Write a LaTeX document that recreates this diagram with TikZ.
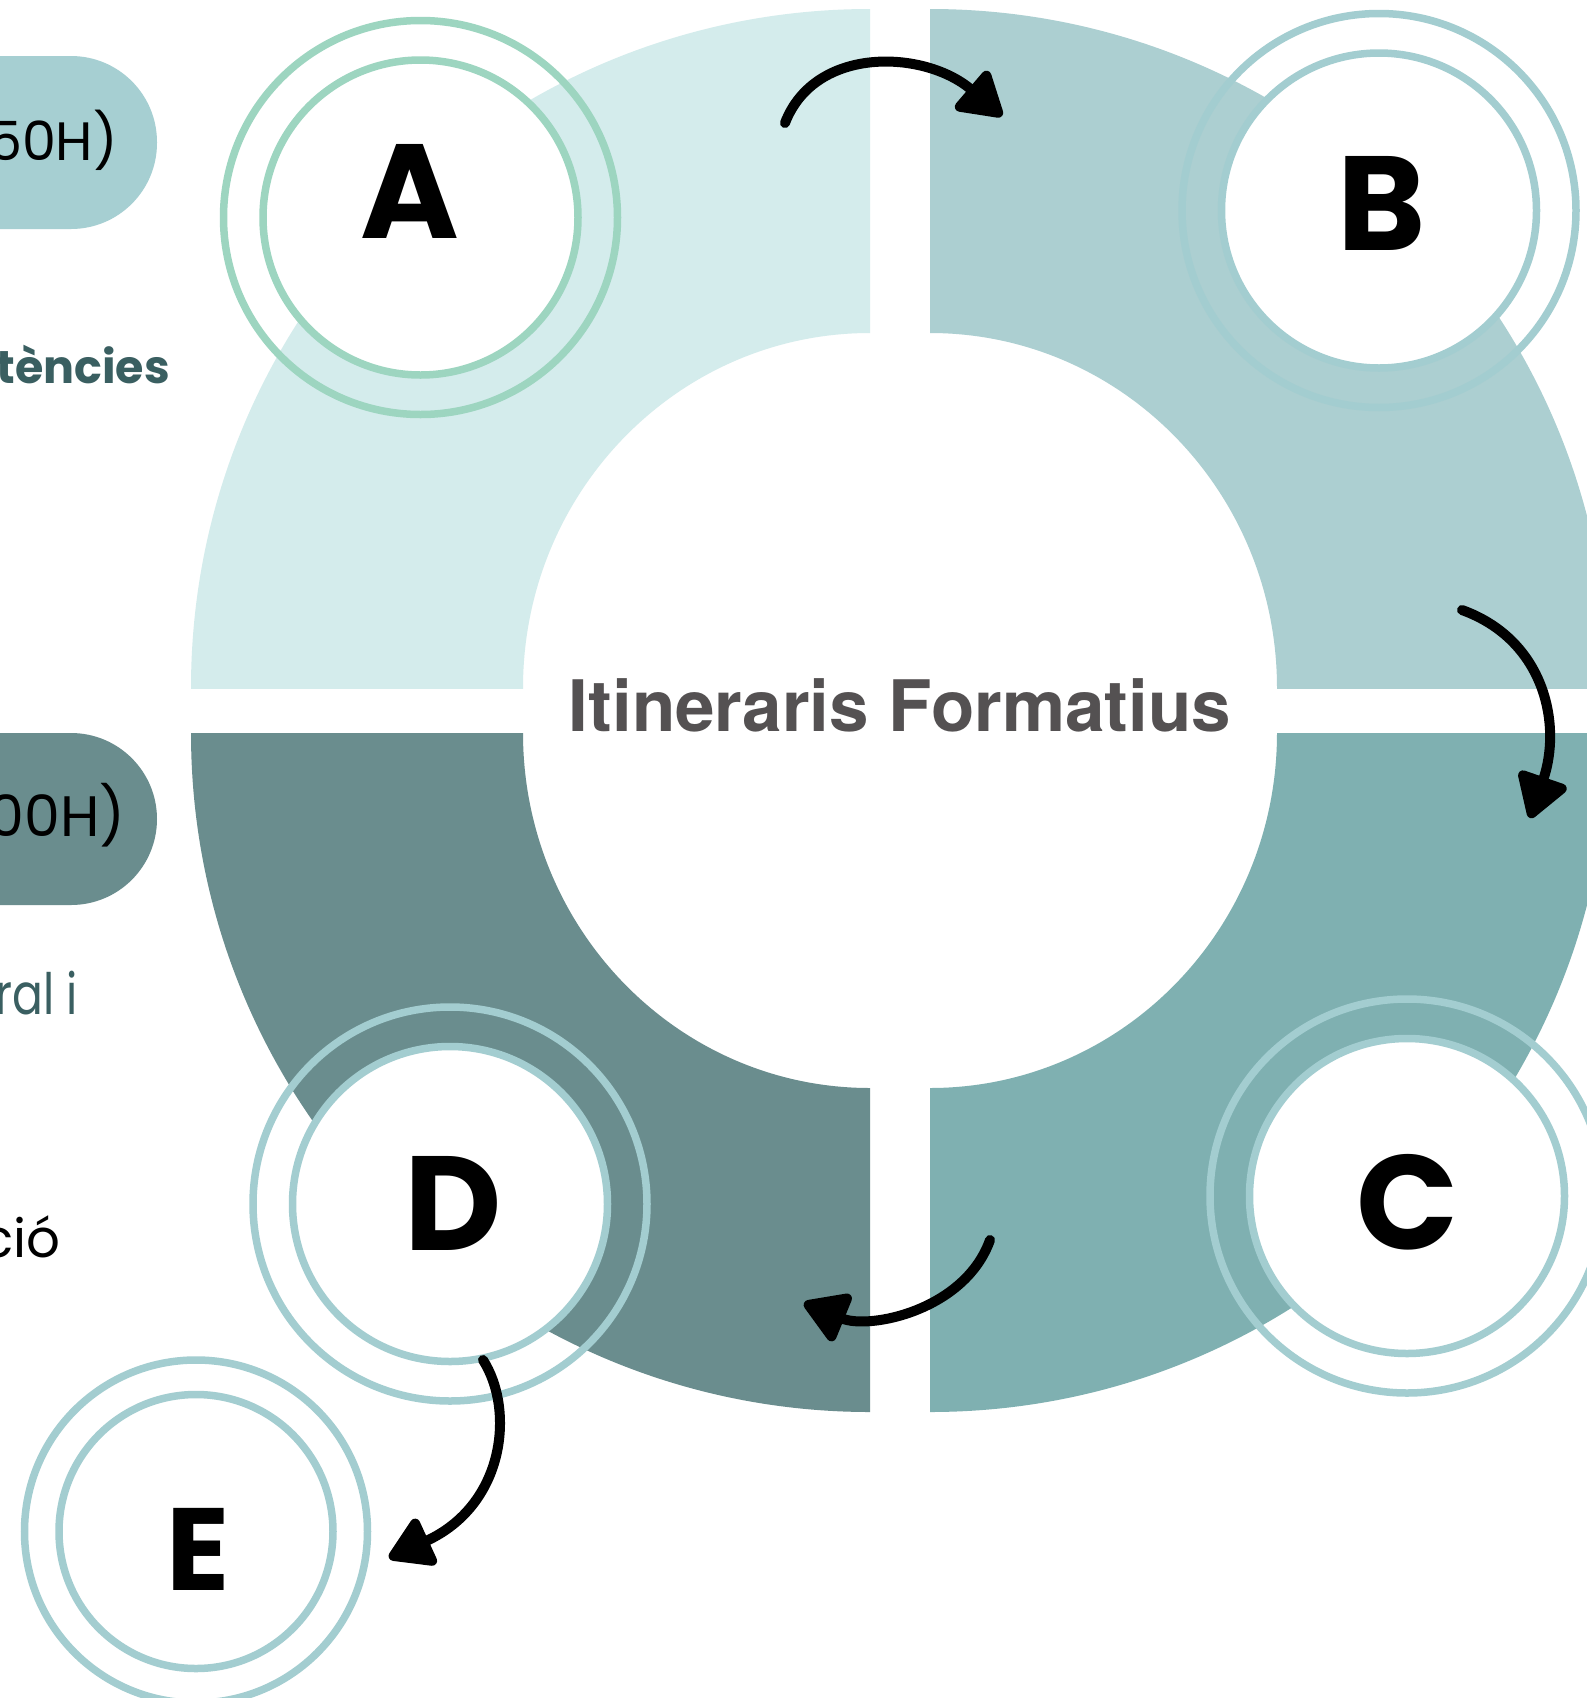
\documentclass[tikz,border=0pt]{standalone}
\usepackage{fontspec}
\setmainfont{Poppins}
\newfontfamily\titlefont{TeX Gyre Heros}
\usetikzlibrary{arrows.meta}
\definecolor{secTL}{HTML}{D4ECEC}
\definecolor{secTR}{HTML}{ACCFD1}
\definecolor{secBR}{HTML}{7FB0B1}
\definecolor{secBL}{HTML}{6A8D8E}
\definecolor{ringblue}{HTML}{A3CDD0}
\definecolor{ringgreen}{HTML}{9DD5C0}
\definecolor{pillA}{HTML}{A6CFD2}
\definecolor{tealtext}{HTML}{3A5F61}
\definecolor{titlegray}{HTML}{545152}
\begin{document}
\begin{tikzpicture}[x=1pt,y=-1pt,
  inring/.style={circle, draw=#1, line width=7.5pt, fill=white, minimum size=315pt, inner sep=0pt},
  outring/.style={circle, draw=#1, line width=7.5pt, minimum size=394pt, inner sep=0pt},
  letter/.style={font=\fontsize{134}{140}\selectfont\bfseries, inner sep=0pt, anchor=base},
  arr/.style={line width=10pt, line cap=round, -{Triangle[length=48pt, width=56pt, round]}},
  sidetext/.style={inner sep=0pt, anchor=base east}]
\useasboundingbox (0,0) rectangle (1587,1698);
\fill[white] (0,0) rectangle (1587,1698);

% quadrants
\begin{scope}
  \clip (0,0) rectangle (870,688);
  \fill[secTL, even odd rule] (870,688) circle[radius=679pt] (870,688) ellipse[x radius=347pt, y radius=355pt];
\end{scope}
\begin{scope}
  \clip (930,0) rectangle (1587,688);
  \fill[secTR, even odd rule] (930,688) circle[radius=679pt] (930,688) ellipse[x radius=347pt, y radius=355pt];
\end{scope}
\begin{scope}
  \clip (930,733) rectangle (1587,1698);
  \fill[secBR, even odd rule] (930,733) circle[radius=679pt] (930,733) ellipse[x radius=347pt, y radius=355pt];
\end{scope}
\begin{scope}
  \clip (0,733) rectangle (870,1698);
  \fill[secBL, even odd rule] (870,733) circle[radius=679pt] (870,733) ellipse[x radius=347pt, y radius=355pt];
\end{scope}

% pills
\fill[pillA, rounded corners=86pt] (-300,56) rectangle (157,229);
\fill[secBL, rounded corners=86pt] (-300,733) rectangle (157,905);

% circles
\node[outring=ringgreen] (Aout) at (420.5,217.5) {};
\node[inring=ringgreen] (A) at (420.5,217.5) {};
\node[outring=ringblue] (Bout) at (1379,210.5) {};
\node[inring=ringblue] (B) at (1379,210.5) {};
\node[outring=ringblue] (Cout) at (1407,1196) {};
\node[inring=ringblue] (C) at (1407,1196) {};
\node[outring=ringblue] (Dout) at (450,1204) {};
\node[inring=ringblue] (D) at (450,1204) {};
\node[outring=ringblue, minimum size=343pt] (Eout) at (196,1531.5) {};
\node[inring=ringblue, minimum size=274pt] (E) at (196,1531.5) {};

% letters
\node[letter] (lA) at (410,238) {A};
\node[letter] (lB) at (1382,250.7) {B};
\node[letter] (lC) at (1408,1249) {C};
\node[letter] (lD) at (453,1250) {D};
\node[letter, font=\fontsize{117}{122}\selectfont\bfseries] (lE) at (198,1590) {E};

% arrows
\coordinate (a1s) at (785,123);
\coordinate (a1e) at (1002,116);
\coordinate (a2s) at (1462,610);
\coordinate (a2e) at (1530,818);
\coordinate (a3s) at (990,1240);
\coordinate (a3e) at (804,1303);
\coordinate (a4s) at (483,1360);
\coordinate (a4e) at (389,1558);
\draw[arr] (a1s) .. controls (815,45) and (925,50) .. (a1e);
\draw[arr] (a2s) .. controls (1545,640) and (1562,725) .. (a2e);
\draw[arr] (a3s) .. controls (965,1310) and (870,1330) .. (a3e);
\draw[arr] (a4s) .. controls (515,1410) and (505,1505) .. (a4e);

% title
\node[inner sep=0pt, anchor=base, text=titlegray, font=\titlefont\bfseries\fontsize{71}{76}\selectfont] (title) at (900,731) {Itineraris Formatius};

% side texts
\node[sidetext, font=\fontsize{54}{58}\selectfont] (t1) at (118,160) {50H)};
\node[sidetext, text=tealtext, font=\fontsize{46}{50}\selectfont\bfseries] (t2) at (170,383) {tències};
\node[sidetext, font=\fontsize{57}{60}\selectfont] (t3) at (126,836) {00H)};
\node[sidetext, text=tealtext, font=\fontsize{57}{60}\selectfont] (t4) at (78,1014) {\scalebox{0.8}[1]{ral i}};
\node[sidetext, font=\fontsize{53}{56}\selectfont] (t5) at (61,1257) {ció};
\end{tikzpicture}
\end{document}
